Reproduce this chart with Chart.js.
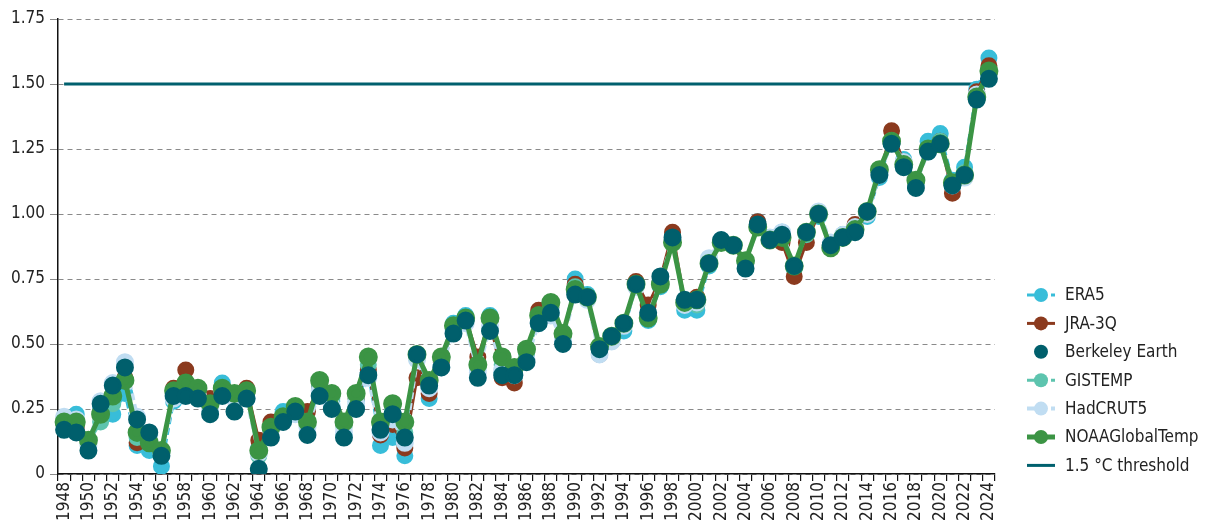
<!DOCTYPE html>
<html>
<head>
<meta charset="utf-8">
<script src="https://cdn.jsdelivr.net/npm/chart.js@4"></script>
<style>
  html, body { margin: 0; padding: 0; background: #fff; }
  #wrap { position: relative; width: 1207px; height: 527px; }
</style>
</head>
<body>
<div id="wrap"><canvas id="c"></canvas></div>
<script>
// Global mean temperature anomalies (°C), 1948-2024.
const years = [];
for (let y = 1948; y <= 2024; y++) years.push(String(y));

const era5 = [
  0.20,0.23,0.11,0.25,0.23,0.31,0.11,0.09,0.03,0.28,
  0.33,0.31,0.26,0.35,0.30,0.30,0.10,0.17,0.24,0.24,
  0.19,0.33,0.28,0.15,0.28,0.39,0.11,0.14,0.07,0.45,
  0.29,0.42,0.58,0.61,0.40,0.61,0.39,0.38,0.45,0.60,
  0.63,0.52,0.75,0.69,0.47,0.51,0.55,0.73,0.59,0.72,
  0.90,0.63,0.63,0.80,0.89,0.88,0.80,0.97,0.91,0.93,
  0.79,0.92,0.99,0.88,0.92,0.94,0.99,1.14,1.28,1.21,
  1.11,1.28,1.31,1.13,1.18,1.48,1.60
];
const jra3q = [
  0.19,0.18,0.12,0.24,0.30,0.37,0.12,0.12,0.08,0.33,
  0.40,0.32,0.29,0.31,0.31,0.33,0.13,0.20,0.22,0.25,
  0.24,0.34,0.30,0.19,0.29,0.40,0.15,0.19,0.10,0.37,
  0.31,0.43,0.56,0.60,0.45,0.59,0.37,0.35,0.47,0.63,
  0.64,0.53,0.73,0.68,0.46,0.52,0.57,0.74,0.65,0.75,
  0.93,0.66,0.68,0.81,0.89,0.88,0.80,0.97,0.90,0.89,
  0.76,0.89,1.00,0.88,0.91,0.96,1.00,1.15,1.32,1.20,
  1.12,1.25,1.28,1.08,1.14,1.47,1.57
];
const berkeley = [
  0.17,0.16,0.09,0.27,0.34,0.41,0.21,0.16,0.07,0.30,
  0.30,0.29,0.23,0.30,0.24,0.29,0.02,0.14,0.20,0.24,
  0.15,0.30,0.25,0.14,0.25,0.38,0.17,0.23,0.14,0.46,
  0.34,0.41,0.54,0.59,0.37,0.55,0.38,0.38,0.43,0.58,
  0.62,0.50,0.69,0.68,0.48,0.53,0.58,0.73,0.62,0.76,
  0.91,0.67,0.67,0.81,0.90,0.88,0.79,0.96,0.90,0.92,
  0.80,0.93,1.00,0.88,0.91,0.93,1.01,1.15,1.27,1.18,
  1.10,1.24,1.27,1.11,1.15,1.44,1.52
];
const gistemp = [
  0.19,0.19,0.12,0.20,0.27,0.36,0.14,0.13,0.08,0.31,
  0.34,0.32,0.26,0.32,0.30,0.31,0.07,0.17,0.21,0.25,
  0.19,0.34,0.29,0.18,0.29,0.42,0.18,0.25,0.16,0.44,
  0.35,0.44,0.55,0.59,0.41,0.59,0.42,0.39,0.46,0.59,
  0.64,0.53,0.72,0.68,0.47,0.52,0.57,0.72,0.60,0.73,
  0.90,0.65,0.65,0.81,0.89,0.88,0.81,0.95,0.91,0.92,
  0.80,0.92,1.00,0.88,0.92,0.94,1.00,1.16,1.28,1.19,
  1.12,1.25,1.28,1.12,1.16,1.46,1.55
];
const hadcrut5 = [
  0.22,0.21,0.11,0.28,0.35,0.43,0.22,0.15,0.08,0.29,
  0.32,0.30,0.25,0.32,0.29,0.29,0.08,0.17,0.21,0.23,
  0.18,0.32,0.26,0.16,0.27,0.37,0.16,0.21,0.12,0.44,
  0.33,0.41,0.55,0.58,0.39,0.57,0.40,0.38,0.44,0.58,
  0.61,0.51,0.70,0.67,0.46,0.51,0.57,0.72,0.61,0.74,
  0.90,0.65,0.66,0.83,0.90,0.88,0.81,0.95,0.91,0.93,
  0.80,0.93,1.01,0.89,0.92,0.95,1.00,1.15,1.28,1.20,
  1.12,1.24,1.27,1.11,1.14,1.46,1.54
];
const noaa = [
  0.20,0.20,0.13,0.23,0.30,0.36,0.16,0.12,0.09,0.32,
  0.35,0.33,0.27,0.33,0.31,0.32,0.09,0.18,0.22,0.26,
  0.20,0.36,0.31,0.20,0.31,0.45,0.20,0.27,0.20,0.46,
  0.36,0.45,0.57,0.60,0.42,0.60,0.45,0.41,0.48,0.61,
  0.66,0.54,0.71,0.68,0.49,0.53,0.58,0.73,0.60,0.73,
  0.89,0.66,0.67,0.81,0.89,0.88,0.82,0.95,0.90,0.91,
  0.80,0.93,1.00,0.87,0.91,0.94,1.01,1.17,1.28,1.19,
  1.13,1.25,1.27,1.12,1.15,1.45,1.55
];
const THRESHOLD = 1.5;
const yTicks = [0, 0.25, 0.5, 0.75, 1.0, 1.25, 1.5, 1.75];

// The reference uses a condensed face. Pick the first installed narrow font,
// either a named "Narrow/Condensed" family or a family that honours font-stretch.
const fontPick = (() => {
  const p = document.createElement('canvas').getContext('2d');
  const sample = 'Berkeley Earth 1948';
  const w = f => { p.font = f; return p.measureText(sample).width; };
  const base = w('20px monospace');
  const named = ['Liberation Sans Narrow', 'DejaVu Sans Condensed', 'Roboto Condensed', 'Open Sans Condensed', 'Noto Sans Condensed'];
  for (const fam of named) {
    if (Math.abs(w(`20px "${fam}", monospace`) - base) > 0.5) return { family: `"${fam}"`, stretch: '' };
  }
  const stretchy = ['Roboto', 'Open Sans', 'Noto Sans', 'Liberation Sans', 'DejaVu Sans'];
  for (const fam of stretchy) {
    if (Math.abs(w(`20px "${fam}", monospace`) - base) < 0.5) continue;
    if (w(`condensed 20px "${fam}"`) < 0.92 * w(`20px "${fam}"`)) return { family: `"${fam}"`, stretch: 'condensed' };
  }
  return { family: '"Liberation Sans"', stretch: '' };
})();
const FAMILY = `${fontPick.family}, "Liberation Sans", sans-serif`;
const STRETCH = fontPick.stretch;
// Size the text so that "Berkeley Earth" is about as wide as in the reference (~112px).
const FS = (() => {
  const p = document.createElement('canvas').getContext('2d');
  p.font = `${STRETCH ? STRETCH + ' ' : ''}20px ${FAMILY}`;
  const s = 20 * 112 / p.measureText('Berkeley Earth').width;
  return Math.max(15, Math.min(21, Math.round(s * 2) / 2));
})();

Chart.defaults.font.family = FAMILY;
Chart.defaults.font.size = FS;
if (STRETCH) Chart.defaults.font.weight = 'normal ' + STRETCH; // lands before the size in the font string
Chart.defaults.color = '#222';

function series(label, data, color, extra) {
  return Object.assign({
    label, data,
    borderColor: color,
    backgroundColor: color,
    pointBackgroundColor: color,
    pointBorderColor: color,
    pointRadius: 7,
    pointHoverRadius: 7,
    borderWidth: 3,
    tension: 0,
  }, extra);
}

const datasets = [
  series('ERA5', era5, '#38bdd9', { borderDash: [7, 4], order: 5 }),
  series('JRA-3Q', jra3q, '#8b3a1e', { order: 4 }),
  series('Berkeley Earth', berkeley, '#005f6c', { showLine: false, pointRadius: 7.5, order: 0 }),
  series('GISTEMP', gistemp, '#5dc4ae', { borderDash: [7, 4], order: 3 }),
  series('HadCRUT5', hadcrut5, '#c0ddf2', { borderDash: [7, 4], borderWidth: 4, order: 2 }),
  series('NOAAGlobalTemp', noaa, '#3b9444', { borderWidth: 5, order: 1 }),
  series('1.5 \u00B0C threshold', years.map(() => THRESHOLD), '#00606e', { pointRadius: 0, borderWidth: 3, order: 6 }),
];

// Legend drawn to the right of the plot: short line sample with a dot, then the name.
const sideLegend = { id: 'sideLegend', afterDraw(chart) {
  const { ctx, chartArea } = chart;
  const x0 = chartArea.right + 32, x1 = x0 + 28, xm = (x0 + x1) / 2, tx = x1 + 10;
  const rowH = 28.4, yStart = 295;
  ctx.save();
  ctx.font = `${STRETCH ? STRETCH + ' ' : ''}${FS}px ${FAMILY}`;
  ctx.textBaseline = 'middle';
  ctx.textAlign = 'left';
  chart.data.datasets.forEach((ds, i) => {
    const y = yStart + i * rowH;
    if (ds.showLine !== false) {
      ctx.strokeStyle = ds.borderColor;
      ctx.lineWidth = ds.borderWidth;
      ctx.setLineDash(ds.borderDash ? [8, 4] : []);
      ctx.beginPath(); ctx.moveTo(x0, y); ctx.lineTo(x1, y); ctx.stroke();
      ctx.setLineDash([]);
    }
    if (ds.pointRadius) {
      ctx.fillStyle = ds.pointBackgroundColor;
      ctx.beginPath(); ctx.arc(xm, y, 7, 0, Math.PI * 2); ctx.fill();
    }
    ctx.fillStyle = '#222';
    ctx.fillText(ds.label, tx, y + 1);
  });
  ctx.restore();
}};

new Chart(document.getElementById('c'), {
  type: 'line',
  data: { labels: years, datasets },
  options: {
    responsive: true,
    maintainAspectRatio: false,
    animation: false,
    layout: { padding: { top: 19, right: 212, left: 0, bottom: 0 } },
    plugins: { legend: { display: false }, tooltip: { enabled: false } },
    scales: {
      x: {
        offset: true,
        grid: { display: true, offset: true, drawOnChartArea: false, drawTicks: true, tickLength: 7, color: '#111', lineWidth: 1.2 },
        border: { display: true, color: '#111', width: 1.5 },
        ticks: {
          autoSkip: false, maxRotation: 90, minRotation: 90, padding: 1,
          callback: function (v) { const y = this.getLabelForValue(v); return Number(y) % 2 === 0 ? y : ''; }
        },
        afterFit: s => { s.height = 53; }
      },
      y: {
        min: 0, max: 1.75,
        afterBuildTicks: s => { s.ticks = yTicks.map(v => ({ value: v })); },
        grid: { color: '#8a8a8a', lineWidth: 1, tickLength: 8, tickColor: '#8a8a8a' },
        border: { display: true, color: '#111', width: 1.5, dash: [5, 4] },
        ticks: { padding: 5, callback: v => v === 0 ? '0' : v.toFixed(2) },
        afterFit: s => { s.width = 58; }
      }
    }
  },
  plugins: [sideLegend]
});
</script>
</body>
</html>
